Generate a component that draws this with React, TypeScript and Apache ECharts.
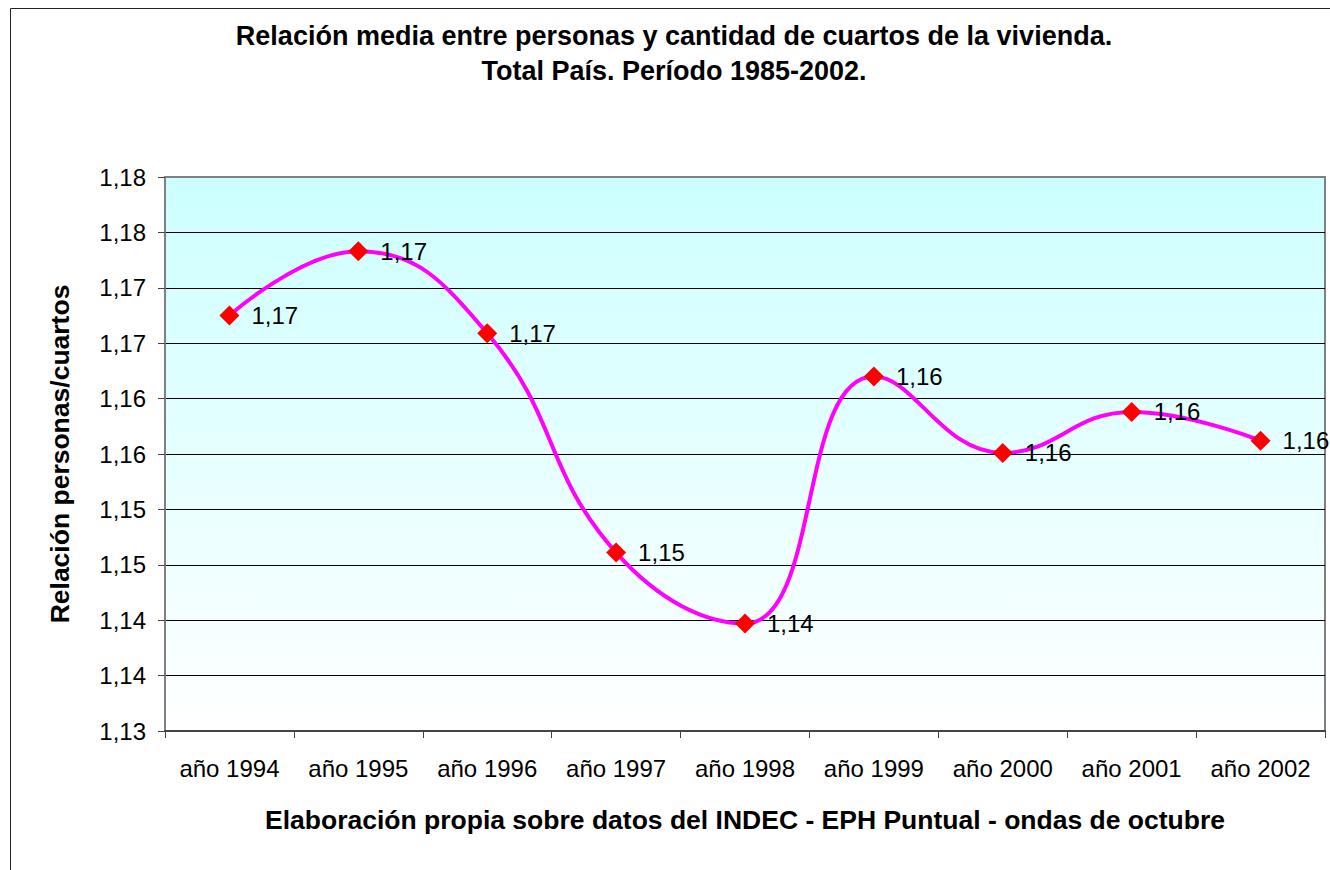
import React, { useEffect, useRef } from "react";
import * as echarts from "echarts";

const categories = [
  "año 1994",
  "año 1995",
  "año 1996",
  "año 1997",
  "año 1998",
  "año 1999",
  "año 2000",
  "año 2001",
  "año 2002",
];

const ratioValues = [1.1675, 1.1733, 1.1659, 1.1461, 1.1397, 1.162, 1.1551, 1.1588, 1.1562];

const titleLines = [
  "Relación media entre personas y cantidad de cuartos de la vivienda.",
  "Total País. Período 1985-2002.",
];
const yAxisName = "Relación personas/cuartos";
const xAxisName = "Elaboración propia sobre datos del INDEC - EPH Puntual - ondas de octubre";

const fmt = (v: number) => {
  const r = Math.round(Math.round(v * 1000) / 10) / 100;
  return r.toFixed(2).replace(".", ",");
};

const FONT = "Arial, 'Liberation Sans', sans-serif";

export default function App() {
  const ref = useRef<HTMLDivElement>(null);
  useEffect(() => {
    if (!ref.current) return;
    const chart = echarts.init(ref.current, undefined, { renderer: "svg" });
    const splitColors = ["#000", "#000", "#000", "#000", "#000", "#000", "#000", "#000", "#000", "#000", "#808080"];
    chart.setOption({
      animation: false,
      backgroundColor: "#ffffff",
      title: {
        text: titleLines.join("\n"),
        left: 669,
        textAlign: "center",
        top: 13,
        textStyle: {
          fontFamily: FONT,
          fontWeight: "bold",
          fontSize: 27,
          lineHeight: 35,
          color: "#000",
        },
      },
      graphic: [
        {
          type: "rect",
          shape: { x: 10.5, y: 8.5, width: 1400, height: 900 },
          style: { fill: "none", stroke: "#222", lineWidth: 1 },
          silent: true,
          z: -10,
        },
      ],
      grid: {
        left: 165,
        right: 5,
        top: 177,
        bottom: 139,
        show: true,
        borderColor: "#808080",
        borderWidth: 2,
        backgroundColor: new echarts.graphic.LinearGradient(0, 0, 0, 1, [
          { offset: 0, color: "#ccffff" },
          { offset: 1, color: "#ffffff" },
        ]),
      },
      xAxis: {
        type: "category",
        data: categories,
        boundaryGap: true,
        name: xAxisName,
        nameLocation: "middle",
        nameGap: 75,
        nameTextStyle: {
          fontFamily: FONT,
          fontWeight: "bold",
          fontSize: 26.5,
          color: "#000",
        },
        axisLine: { show: true, lineStyle: { color: "#444", width: 2 } },
        axisTick: { show: true, length: 7, lineStyle: { color: "#444", width: 1 } },
        axisLabel: {
          fontFamily: FONT,
          fontSize: 24,
          color: "#000",
          margin: 25,
          interval: 0,
        },
      },
      yAxis: {
        type: "value",
        min: 1.13,
        max: 1.18,
        interval: 0.005,
        name: yAxisName,
        nameLocation: "middle",
        nameGap: 92,
        nameTextStyle: {
          fontFamily: FONT,
          fontWeight: "bold",
          fontSize: 26.5,
          color: "#000",
        },
        axisLine: { show: true, lineStyle: { color: "#808080", width: 2 } },
        axisTick: { show: true, length: 7, lineStyle: { color: "#444", width: 1 } },
        axisLabel: {
          fontFamily: FONT,
          fontSize: 24,
          color: "#000",
          margin: 19,
          formatter: (v: number) => fmt(v),
        },
        splitLine: { show: true, lineStyle: { color: splitColors, width: 1 } },
      },
      series: [
        {
          type: "line",
          data: ratioValues,
          smooth: 0.45,
          symbol: "diamond",
          symbolSize: 20,
          itemStyle: { color: "#ff0000" },
          lineStyle: { color: "#ff00ff", width: 4 },
          label: {
            show: true,
            position: "right",
            distance: 12,
            fontFamily: FONT,
            fontSize: 24,
            color: "#000",
            formatter: (p: any) => fmt(p.value),
          },
          clip: false,
        },
      ],
    });
    return () => chart.dispose();
  }, []);
  return (
    <div
      ref={ref}
      style={{ position: "absolute", left: 0, top: 0, width: 1330, height: 870 }}
    />
  );
}
